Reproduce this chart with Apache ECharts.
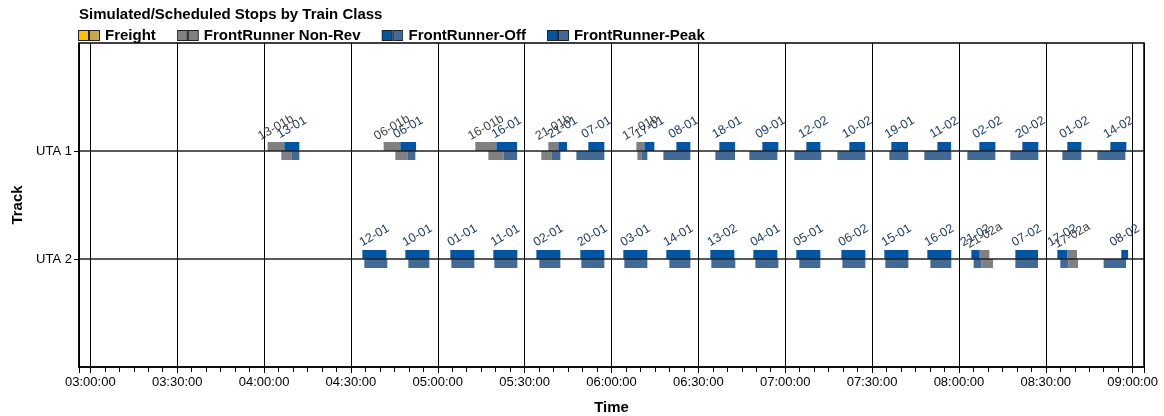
<!DOCTYPE html>
<html><head><meta charset="utf-8">
<script src="https://cdn.jsdelivr.net/npm/echarts@6/dist/echarts.min.js"></script>
<style>html,body{margin:0;padding:0;background:#fff}#c{width:1164px;height:416px}</style>
</head><body><div id="c"></div><script>
// ---------- data ----------
const tracks = ['UTA 1', 'UTA 2'];
const legendNames = ['Freight', 'FrontRunner Non-Rev', 'FrontRunner-Off', 'FrontRunner-Peak'];

// Freight: no stops in view
const freightIds = [];
const freightTrack = [];
const freightSchedStart = [];
const freightSchedEnd = [];
const freightSimStart = [];
const freightSimEnd = [];

// FrontRunner Non-Rev
const nonRevIds = ['13-01b', '06-01b', '16-01b', '21-01b', '17-01b', '21-02a', '17-02a'];
const nonRevTrack = [1, 1, 1, 1, 1, 2, 2];
const nonRevSchedStart = ['04:01:14', '04:41:18', '05:12:58', '05:38:11', '06:08:35', '08:07:09', '08:37:26'];
const nonRevSchedEnd = ['04:07:00', '04:47:04', '05:20:14', '05:41:38', '06:11:21', '08:10:30', '08:40:47'];
const nonRevSimStart = ['04:05:58', '04:45:20', '05:17:28', '05:35:46', '06:08:56', '08:07:44', '08:37:47'];
const nonRevSimEnd = ['04:09:25', '04:49:29', '05:22:39', '05:39:13', '06:10:19', '08:11:47', '08:41:08'];

// FrontRunner-Off
const offIds = ['13-01', '06-01', '16-01', '21-01', '07-01', '12-01', '10-01', '01-01', '11-01', '02-01', '20-01'];
const offTrack = [1, 1, 1, 1, 1, 2, 2, 2, 2, 2, 2];
const offSchedStart = ['04:07:00', '04:47:04', '05:20:14', '05:41:38', '05:52:00', '04:33:57', '04:48:48', '05:04:20', '05:19:11', '05:34:03', '05:49:14'];
const offSchedEnd = ['04:12:11', '04:52:30', '05:27:23', '05:44:39', '05:57:32', '04:42:14', '04:57:05', '05:12:38', '05:27:29', '05:42:20', '05:57:32'];
const offSimStart = ['04:09:25', '04:49:29', '05:22:39', '05:39:13', '05:47:52', '04:34:38', '04:49:50', '05:04:41', '05:19:32', '05:35:05', '05:49:35'];
const offSimEnd = ['04:12:11', '04:52:15', '05:27:23', '05:42:20', '05:57:32', '04:42:35', '04:57:05', '05:12:38', '05:27:29', '05:42:20', '05:57:32'];

// FrontRunner-Peak
const peakIds = ['17-01', '08-01', '18-01', '09-01', '12-02', '10-02', '19-01', '11-02', '02-02', '20-02', '01-02', '14-02',
                 '03-01', '14-01', '13-02', '04-01', '05-01', '06-02', '15-01', '16-02', '21-02', '07-02', '17-02', '08-02'];
const peakTrack = [1, 1, 1, 1, 1, 1, 1, 1, 1, 1, 1, 1, 2, 2, 2, 2, 2, 2, 2, 2, 2, 2, 2, 2];
const peakSchedStart = ['06:11:21', '06:22:24', '06:37:15', '06:52:06', '07:07:18', '07:22:09', '07:36:39', '07:52:33', '08:07:03', '08:21:54', '08:37:26', '08:52:18',
                        '06:04:05', '06:18:56', '06:34:08', '06:48:59', '07:03:50', '07:19:23', '07:34:14', '07:49:05', '08:04:17', '08:19:29', '08:33:59', '08:56:05'];
const peakSchedEnd = ['06:14:48', '06:27:14', '06:42:40', '06:57:38', '07:12:08', '07:27:34', '07:42:25', '07:57:16', '08:12:35', '08:27:25', '08:42:17', '08:57:49',
                      '06:12:23', '06:27:14', '06:42:26', '06:57:17', '07:12:08', '07:27:40', '07:42:32', '07:57:22', '08:07:09', '08:27:19', '08:37:26', '08:58:25'];
const peakSimStart = ['06:10:19', '06:17:55', '06:35:52', '06:47:37', '07:03:09', '07:18:01', '07:35:58', '07:48:03', '08:02:54', '08:17:45', '08:35:43', '08:47:48',
                      '06:04:26', '06:19:59', '06:34:29', '06:49:41', '07:04:53', '07:19:44', '07:34:35', '07:50:08', '08:05:05', '08:19:29', '08:35:01', '08:49:59'];
const peakSimEnd = ['06:12:23', '06:27:14', '06:42:40', '06:57:17', '07:12:29', '07:27:40', '07:42:32', '07:57:22', '08:12:35', '08:27:25', '08:42:17', '08:57:29',
                    '06:12:23', '06:27:14', '06:42:46', '06:57:38', '07:12:08', '07:27:40', '07:42:32', '07:57:22', '08:07:44', '08:27:19', '08:37:47', '08:57:43'];

const axisMin = '02:56:05';
const axisMax = '09:03:55';

// ---------- helpers ----------
function toMin(s) { const p = s.split(':').map(Number); return p[0] * 60 + p[1] + (p[2] || 0) / 60; }
function fmt(v) {
  const tot = Math.round(v * 60);
  const h = Math.floor(tot / 3600), m = Math.floor((tot % 3600) / 60), s = tot % 60;
  const z = n => (n < 10 ? '0' : '') + n;
  return z(h) + ':' + z(m) + ':' + z(s);
}
function icon(c1, c2) {
  const svg = '<svg xmlns="http://www.w3.org/2000/svg" width="22" height="11">' +
    '<rect x="0.5" y="0.5" width="10" height="10" fill="' + c1 + '" stroke="#222"/>' +
    '<rect x="11.5" y="0.5" width="10" height="10" fill="' + c2 + '" stroke="#222"/></svg>';
  return 'image://data:image/svg+xml;charset=utf-8,' + encodeURIComponent(svg);
}

const FONT = '"Liberation Sans", Arial, Helvetica, sans-serif';
const BAR_H = 9;
const LABEL_OFF = 14.5;

function makeSeries(name, ids, track, ss, se, ms, me, schedColor, simColor, labelColor, z) {
  const data = ids.map((id, i) => ({
    name: id,
    value: [track[i], toMin(ss[i]), toMin(se[i]), toMin(ms[i]), toMin(me[i])]
  }));
  return {
    name: name,
    type: 'custom',
    z: z,
    itemStyle: { color: schedColor },
    encode: { x: [1, 2, 3, 4], y: 0 },
    data: data,
    renderItem: function (params, api) {
      const t = api.value(0);
      const a = api.coord([api.value(1), t]);
      const b = api.coord([api.value(2), t]);
      const c = api.coord([api.value(3), t]);
      const d = api.coord([api.value(4), t]);
      const y = a[1];
      return {
        type: 'group',
        children: [
          { type: 'rect', shape: { x: a[0], y: y - BAR_H, width: b[0] - a[0], height: BAR_H }, style: { fill: schedColor } },
          { type: 'rect', shape: { x: c[0], y: y, width: d[0] - c[0], height: BAR_H }, style: { fill: simColor } },
          { type: 'text', x: (a[0] + b[0]) / 2, y: y - BAR_H - LABEL_OFF, rotation: Math.PI / 6,
            style: { text: ids[params.dataIndex], fill: labelColor, fontSize: 12.5, fontFamily: FONT,
                     align: 'center', verticalAlign: 'middle' } }
        ]
      };
    }
  };
}

const chart = echarts.init(document.getElementById('c'), null, { renderer: 'canvas' });
chart.setOption({
  animation: false,
  backgroundColor: '#fff',
  title: {
    text: 'Simulated/Scheduled Stops by Train Class',
    left: 74, top: 2,
    textStyle: { fontSize: 15, fontWeight: 'bold', color: '#000', fontFamily: FONT }
  },
  legend: {
    left: 73, top: 23,
    itemWidth: 22, itemHeight: 11, itemGap: 21,
    textStyle: { fontSize: 15, fontWeight: 'bold', color: '#000', fontFamily: FONT },
    data: [
      { name: legendNames[0], icon: icon('#FFC000', '#C8A84B') },
      { name: legendNames[1], icon: icon('#808080', '#808080') },
      { name: legendNames[2], icon: icon('#0055A5', '#426A96') },
      { name: legendNames[3], icon: icon('#0055A5', '#426A96') }
    ]
  },
  grid: { left: 79, right: 20, top: 43, bottom: 49, outerBoundsMode: 'none', containLabel: false,
          show: true, borderColor: '#000', borderWidth: 1.5, backgroundColor: 'transparent' },
  xAxis: {
    type: 'value',
    min: toMin(axisMin), max: toMin(axisMax),
    splitNumber: 12, minInterval: 30, maxInterval: 30,
    axisLine: { show: true, onZero: false, lineStyle: { color: '#000', width: 1.5 } },
    axisTick: { show: true, length: 6, lineStyle: { color: '#000' } },
    minorTick: { show: true, splitNumber: 6, length: 5, lineStyle: { color: '#000' } },
    axisLabel: { formatter: fmt, fontSize: 13, color: '#000', fontFamily: FONT, margin: 9 },
    splitLine: { show: true, lineStyle: { color: '#000', width: 1 } },
    name: 'Time', nameLocation: 'middle', nameGap: 33,
    nameTextStyle: { fontSize: 15, fontWeight: 'bold', color: '#000', fontFamily: FONT }
  },
  yAxis: {
    type: 'value', min: 0, max: 3, interval: 1, inverse: true, z: 5,
    axisLine: { show: true, onZero: false, lineStyle: { color: '#000', width: 1.5 } },
    axisTick: { show: true, length: 5, customValues: [1, 2], lineStyle: { color: '#000' } },
    axisLabel: { customValues: [1, 2], formatter: v => tracks[v - 1] || '', fontSize: 13, color: '#000', fontFamily: FONT, margin: 7 },
    splitLine: { show: true, lineStyle: { color: '#222', width: 1.5 } },
    name: 'Track', nameLocation: 'middle', nameGap: 53,
    nameTextStyle: { fontSize: 15, fontWeight: 'bold', color: '#000', fontFamily: FONT }
  },
  series: [
    makeSeries(legendNames[0], freightIds, freightTrack, freightSchedStart, freightSchedEnd, freightSimStart, freightSimEnd, '#FFC000', '#C8A84B', '#404040', 2),
    makeSeries(legendNames[1], nonRevIds, nonRevTrack, nonRevSchedStart, nonRevSchedEnd, nonRevSimStart, nonRevSimEnd, '#808080', '#808080', '#404040', 2),
    makeSeries(legendNames[2], offIds, offTrack, offSchedStart, offSchedEnd, offSimStart, offSimEnd, '#0055A5', '#426A96', '#1A3A66', 3),
    makeSeries(legendNames[3], peakIds, peakTrack, peakSchedStart, peakSchedEnd, peakSimStart, peakSimEnd, '#0055A5', '#426A96', '#1A3A66', 3)
  ]
});
</script></body></html>
